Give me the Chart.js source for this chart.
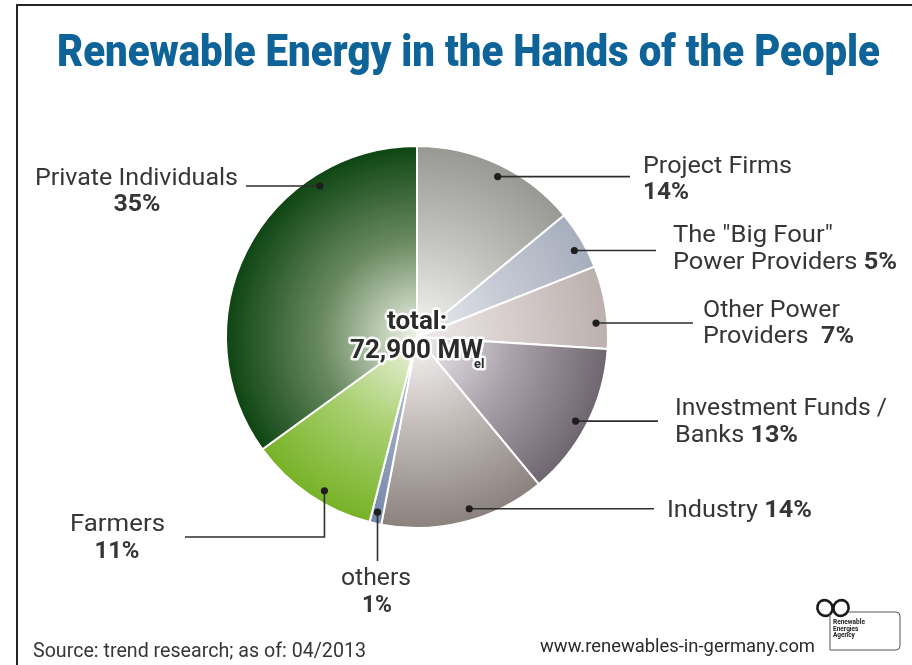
<!DOCTYPE html>
<html>
<head>
<meta charset="utf-8">
<script src="https://cdn.jsdelivr.net/npm/chart.js@4.4.1/dist/chart.umd.min.js"></script>
<style>
  html,body{margin:0;padding:0;background:#fff;}
  canvas{display:block;}
</style>
</head>
<body>
<canvas id="pie" width="912" height="665"></canvas>
<script>
// data (shares in %, clockwise from 12 o'clock)
const categories = ['Project Firms', 'The "Big Four" Power Providers', 'Other Power Providers',
  'Investment Funds / Banks', 'Industry', 'others', 'Farmers', 'Private Individuals'];
const shares = [14, 5, 7, 13, 14, 1, 11, 35];
const totalText = ['total:', '72,900 MW', 'el'];
const titleText = 'Renewable Energy in the Hands of the People';
const sourceText = 'Source: trend research; as of: 04/2013';
const siteText = 'www.renewables-in-germany.com';

// slice colours: light centre -> middle -> outer edge
const innerColors = ['#f2f2f0', '#e8eaef', '#eee9e9', '#ebe8ec', '#f2f0f0', '#c8d0e0', '#e9f1d9', '#e6ecde'];
const midColors   = ['#c4c5c1', '#c6cad4', '#d6cdcc', '#aaa2aa', '#c0b9b6', '#98a6c0', '#a9d071', '#6a8a61'];
const outerColors = ['#979893', '#a6adbc', '#bbb0ae', '#6e6570', '#8a817d', '#7587a8', '#76b226', '#0d4412'];

const FONT = 'Roboto, "DejaVu Sans", sans-serif';
const INK = '#363636';

// label layout: t = where the dot sits along the slice, lead = leader line, lines = text rows
const labelLayout = [
  {t: 0.53, lead: d => [[630, d.y]], lines: [
    {x: 643, y: 173, w: 149, segs: [['Project Firms', 0]]},
    {x: 643, y: 199, w: 46, segs: [[shares[0] + '%', 1]]}]},
  {t: 0.60, lead: d => [[656, d.y]], lines: [
    {x: 673, y: 242, w: 160, segs: [['The "Big Four"', 0]]},
    {x: 673, y: 269, w: 224, segs: [['Power Providers ', 0], [shares[1] + '%', 1]]}]},
  {t: 0.68, lead: d => [[693, d.y]], lines: [
    {x: 703, y: 317, w: 137, segs: [['Other Power', 0]]},
    {x: 703, y: 343, w: 151, segs: [['Providers  ', 0], [shares[2] + '%', 1]]}]},
  {t: 0.52, lead: d => [[658, d.y]], lines: [
    {x: 675, y: 415, w: 212, segs: [['Investment Funds /', 0]]},
    {x: 675, y: 442, w: 123, segs: [['Banks ', 0], [shares[3] + '%', 1]]}]},
  {t: 0.45, lead: d => [[654, d.y]], lines: [
    {x: 667, y: 517, w: 145, segs: [['Industry ', 0], [shares[4] + '%', 1]]}]},
  {t: 0.53, lead: d => [[d.x, 561]], lines: [
    {cx: 376, y: 585, w: 70, segs: [['others', 0]]},
    {cx: 377, y: 612, w: 30, segs: [[shares[5] + '%', 1]]}]},
  {t: 0.42, lead: d => [[d.x, 537], [185, 537]], lines: [
    {x: 70, y: 531, w: 95, segs: [['Farmers', 0]]},
    {cx: 117, y: 558, w: 45, segs: [[shares[6] + '%', 1]]}]},
  {t: 0.74, lead: d => [[246, d.y]], lines: [
    {x: 35, y: 185, w: 203, segs: [['Private Individuals', 0]]},
    {cx: 137, y: 211, w: 47, segs: [[shares[7] + '%', 1]]}]}
];

function fitRow(ctx, row, size, color, heavy) {
  const weight = b => b ? (heavy || 'bold') + ' ' : '';
  let total = 0;
  row.segs.forEach(s => {
    ctx.font = weight(s[1]) + size + 'px ' + FONT;
    total += ctx.measureText(s[0]).width;
  });
  const sx = row.w / total;
  const left = row.cx !== undefined ? row.cx - row.w / 2 : row.x;
  ctx.save();
  ctx.translate(left, row.y);
  ctx.scale(sx, 1);
  ctx.fillStyle = color;
  ctx.textBaseline = 'alphabetic';
  ctx.textAlign = 'left';
  let x = 0;
  row.segs.forEach(s => {
    ctx.font = weight(s[1]) + size + 'px ' + FONT;
    ctx.fillText(s[0], x, 0);
    x += ctx.measureText(s[0]).width;
  });
  ctx.restore();
}

function sliceFill(context) {
  const i = context.dataIndex;
  const area = context.chart.chartArea;
  if (!area) return outerColors[i];
  const cx = (area.left + area.right) / 2;
  const cy = (area.top + area.bottom) / 2;
  const r = Math.min(area.right - area.left, area.bottom - area.top) / 2;
  const g = context.chart.ctx.createRadialGradient(cx, cy, 0, cx, cy, r);
  g.addColorStop(0.04, innerColors[i]);
  g.addColorStop(0.5, midColors[i]);
  g.addColorStop(1, outerColors[i]);
  return g;
}

const decorations = {
  id: 'decorations',
  afterDraw(chart) {
    const ctx = chart.ctx;
    const meta = chart.getDatasetMeta(0);

    // frame (top + left)
    ctx.save();
    ctx.strokeStyle = '#262626';
    ctx.lineWidth = 2;
    ctx.beginPath();
    ctx.moveTo(17, 665); ctx.lineTo(17, 5); ctx.lineTo(912, 5);
    ctx.stroke();
    ctx.restore();

    // title
    fitRow(ctx, {x: 57, y: 66, w: 823, segs: [[titleText, 1]]}, 45, '#0e6498', '900');

    // leader lines, dots and labels
    meta.data.forEach((arc, i) => {
      const p = arc.getProps(['x', 'y', 'startAngle', 'endAngle', 'outerRadius'], true);
      const L = labelLayout[i];
      const a = p.startAngle + (p.endAngle - p.startAngle) * L.t;
      const d = {x: p.x + Math.cos(a) * p.outerRadius * 0.94, y: p.y + Math.sin(a) * p.outerRadius * 0.94};
      ctx.save();
      ctx.strokeStyle = '#2e2e2e';
      ctx.lineWidth = 1.6;
      ctx.beginPath();
      ctx.moveTo(d.x, d.y);
      L.lead(d).forEach(pt => ctx.lineTo(pt[0], pt[1]));
      ctx.stroke();
      ctx.fillStyle = '#1e1e1e';
      ctx.beginPath();
      ctx.arc(d.x, d.y, 3.6, 0, Math.PI * 2);
      ctx.fill();
      ctx.restore();
      L.lines.forEach(row => fitRow(ctx, row, 24, INK));
    });

    // centre total with white halo
    const c = meta.data[0].getProps(['x', 'y'], true);
    ctx.save();
    ctx.lineJoin = 'round';
    ctx.textBaseline = 'alphabetic';
    const halo = (txt, x, y, size, align) => {
      ctx.font = 'bold ' + size + 'px ' + FONT;
      ctx.textAlign = align;
      ctx.strokeStyle = 'rgba(255,255,255,0.9)';
      ctx.lineWidth = 5;
      ctx.strokeText(txt, x, y);
      ctx.fillStyle = '#2b2b2b';
      ctx.fillText(txt, x, y);
    };
    halo(totalText[0], c.x, c.y - 8, 26, 'center');
    halo(totalText[1], c.x - 67, c.y + 21, 26, 'left');
    halo(totalText[2], c.x + 57, c.y + 31, 13, 'left');
    ctx.restore();

    // footer
    fitRow(ctx, {x: 33, y: 657, w: 333, segs: [[sourceText, 0]]}, 20, INK);
    fitRow(ctx, {x: 540, y: 652, w: 275, segs: [[siteText, 0]]}, 19, '#2a2a2a');

    // agency logo
    ctx.save();
    ctx.strokeStyle = '#1a1a1a';
    ctx.lineWidth = 2.6;
    ctx.beginPath(); ctx.ellipse(825, 608, 7.5, 8, -0.5, 0, Math.PI * 2); ctx.stroke();
    ctx.beginPath(); ctx.ellipse(841, 608, 7.5, 8, 0.5, 0, Math.PI * 2); ctx.stroke();
    ctx.lineWidth = 1;
    ctx.strokeStyle = '#555';
    ctx.beginPath();
    ctx.moveTo(848, 612); ctx.lineTo(896, 612);
    ctx.quadraticCurveTo(900, 612, 900, 616);
    ctx.lineTo(900, 646);
    ctx.quadraticCurveTo(900, 650, 896, 650);
    ctx.lineTo(830, 650); ctx.lineTo(830, 613);
    ctx.stroke();
    ctx.fillStyle = '#222';
    ctx.font = 'bold 6.5px ' + FONT;
    ctx.textAlign = 'left';
    ['Renewable', 'Energies', 'Agency'].forEach((t, k) => ctx.fillText(t, 833, 624 + k * 6.5));
    ctx.restore();
  }
};

new Chart(document.getElementById('pie'), {
  type: 'pie',
  data: {
    labels: categories,
    datasets: [{
      data: shares,
      backgroundColor: sliceFill,
      borderColor: '#ffffff',
      borderWidth: 2,
      hoverOffset: 0
    }]
  },
  options: {
    responsive: false,
    animation: false,
    layout: {padding: {left: 225, right: 303, top: 145, bottom: 136}},
    plugins: {legend: {display: false}, tooltip: {enabled: false}}
  },
  plugins: [decorations]
});
</script>
</body>
</html>
